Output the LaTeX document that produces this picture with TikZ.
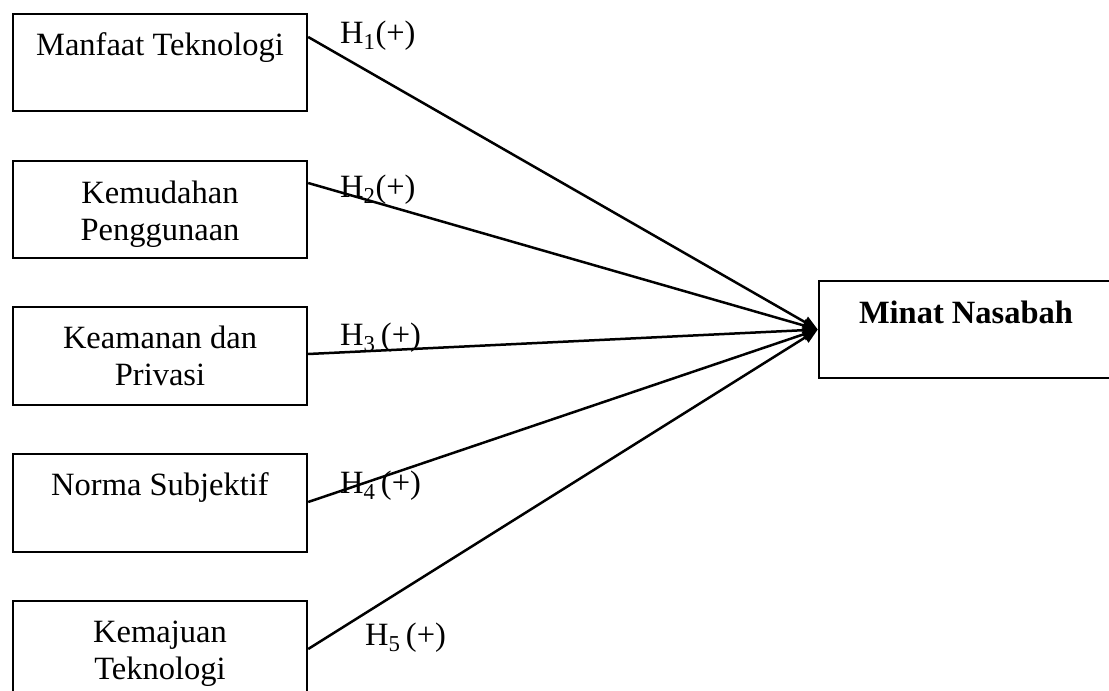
\documentclass[tikz,border=0pt]{standalone}
\usepackage{fontspec}
\setmainfont{Liberation Serif}
\usetikzlibrary{arrows.meta}
\begin{document}
\begin{tikzpicture}[x=1pt,y=-1pt,
  box/.style={draw=black,line width=2.4pt,rectangle,minimum width=294pt,inner sep=0pt},
  btext/.style={anchor=base,align=center,inner sep=0pt,font=\fontsize{32.5}{37}\selectfont},
  hlab/.style={anchor=base west,inner sep=0pt,font=\fontsize{32.5}{37}\selectfont},
  link/.style={line width=2.5pt,-{Triangle[length=15pt,width=12pt]}}]
\useasboundingbox (0,0) rectangle (1109,691);
\clip (0,0) rectangle (1109,691);
\node[box,minimum height=97pt] (b1) at (160,62.5) {};
\node[box,minimum height=97pt] (b2) at (160,209.5) {};
\node[box,minimum height=98pt] (b3) at (160,356) {};
\node[box,minimum height=98pt] (b4) at (160,503) {};
\node[box,minimum height=99pt] (b5) at (160,650.5) {};
\node[box,minimum width=296pt,minimum height=97pt] (m) at (967,329.5) {};
\node[btext] (t1) at (160,55) {Manfaat Teknologi};
\node[btext] (t2) at (160,240) {Kemudahan\\Penggunaan};
\node[btext] (t3) at (160,385) {Keamanan dan\\Privasi};
\node[btext] (t4) at (160,495) {Norma Subjektif};
\node[btext] (t5) at (160,679) {Kemajuan\\Teknologi};
\node[btext,font=\fontsize{32.5}{37}\selectfont\bfseries] (tm) at (966,323) {Minat Nasabah};
\draw[link] ([yshift=25.5pt]b1.east) -- (m.west);
\draw[link] ([yshift=26.5pt]b2.east) -- (m.west);
\draw[link] ([yshift=2pt]b3.east) -- (m.west);
\draw[link] ([yshift=1pt]b4.east) -- (m.west);
\draw[link] ([yshift=1.5pt]b5.east) -- (m.west);
\node[hlab] (l1) at (340,43) {H\textsubscript{1}(+)};
\node[hlab] (l2) at (340,197) {H\textsubscript{2}(+)};
\node[hlab] (l3) at (340,345) {H\textsubscript{3}\,(+)};
\node[hlab] (l4) at (340,493) {H\textsubscript{4}\,(+)};
\node[hlab] (l5) at (365,645) {H\textsubscript{5}\,(+)};
\end{tikzpicture}
\end{document}
